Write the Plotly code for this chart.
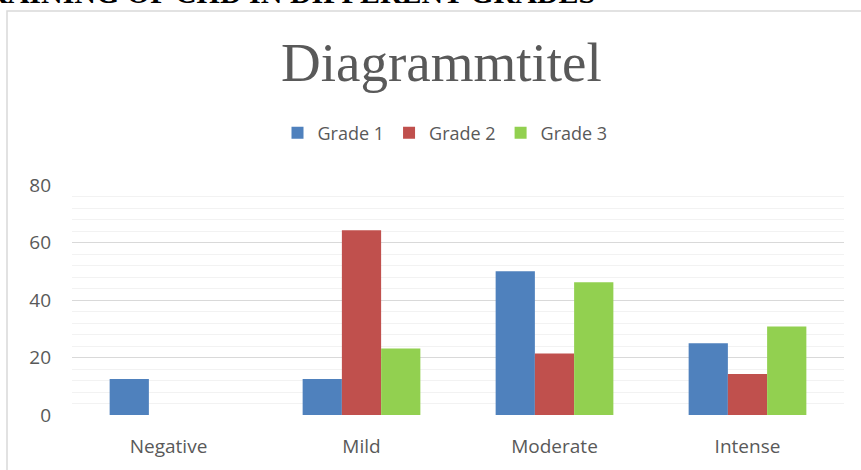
import plotly.graph_objects as go

categories = ["Negative", "Mild", "Moderate", "Intense"]
series_names = ["Grade 1", "Grade 2", "Grade 3"]
grade1 = [12.5, 12.5, 50.0, 25.0]
grade2 = [0.0, 64.3, 21.4, 14.3]
grade3 = [0.0, 23.1, 46.2, 30.8]
colors = ["#4F81BD", "#C0504D", "#92D050"]
y_ticks = [0, 20, 40, 60, 80]

W, H = 861, 470
L, R, T, B = 72, 17, 185, 55
pw, ph = W - L - R, H - T - B

def px_x(x):
    return (x - L) / pw

def px_y(y):
    return 1 - (y - T) / ph

fig = go.Figure()
for name, vals, col in zip(series_names, [grade1, grade2, grade3], colors):
    fig.add_trace(go.Bar(
        x=categories, y=vals, name=name,
        marker=dict(color=col, line=dict(width=0)),
    ))

font_family = "Open Sans, sans-serif"
fig.update_layout(
    width=W, height=H,
    margin=dict(l=L, r=R, t=T, b=B),
    paper_bgcolor="white", plot_bgcolor="white",
    barmode="group", bargap=0.39, bargroupgap=0,
    font=dict(family=font_family, color="#595959"),
    showlegend=True,
    legend=dict(
        orientation="h", x=px_x(445), xanchor="center",
        y=px_y(133), yanchor="middle",
        font=dict(size=18, color="#595959", family=font_family),
        itemwidth=30, bgcolor="rgba(0,0,0,0)",
    ),
    xaxis=dict(
        showgrid=False, showline=False, zeroline=False,
        tickfont=dict(size=19, color="#595959"),
        ticks="", ticklabelstandoff=18,
        fixedrange=True,
    ),
    yaxis=dict(
        range=[0, 80], tickvals=y_ticks,
        showgrid=True, gridcolor="#D9D9D9", gridwidth=1,
        zeroline=False, showline=False, ticks="",
        tickfont=dict(size=19, color="#595959"),
        ticklabelstandoff=20,
        minor=dict(dtick=4, showgrid=True, gridcolor="#F2F2F2", gridwidth=1),
        fixedrange=True,
    ),
)

# Chart area border
fig.add_shape(type="rect", xref="paper", yref="paper",
              x0=px_x(7), x1=px_x(900), y0=px_y(520), y1=px_y(11),
              line=dict(color="#D9D9D9", width=1.5), fillcolor="rgba(0,0,0,0)",
              layer="below")

# Chart title
fig.add_annotation(text="Diagrammtitel", xref="paper", yref="paper",
                   x=px_x(441), y=px_y(63), xanchor="center", yanchor="middle",
                   showarrow=False,
                   font=dict(size=55, color="#595959", family="Liberation Serif, serif"))

# Cut-off document heading at the very top
fig.add_annotation(text="<b>TRAINING OF CHD IN DIFFERENT GRADES</b>", xref="paper", yref="paper",
                   x=px_x(597), y=px_y(11), xanchor="right", yanchor="bottom",
                   showarrow=False,
                   font=dict(size=30, color="#000000", family="Liberation Serif, serif"))

fig.write_html("out.html", config={"displayModeBar": False},
               post_script="document.body.style.margin='0';document.body.style.padding='0';")
